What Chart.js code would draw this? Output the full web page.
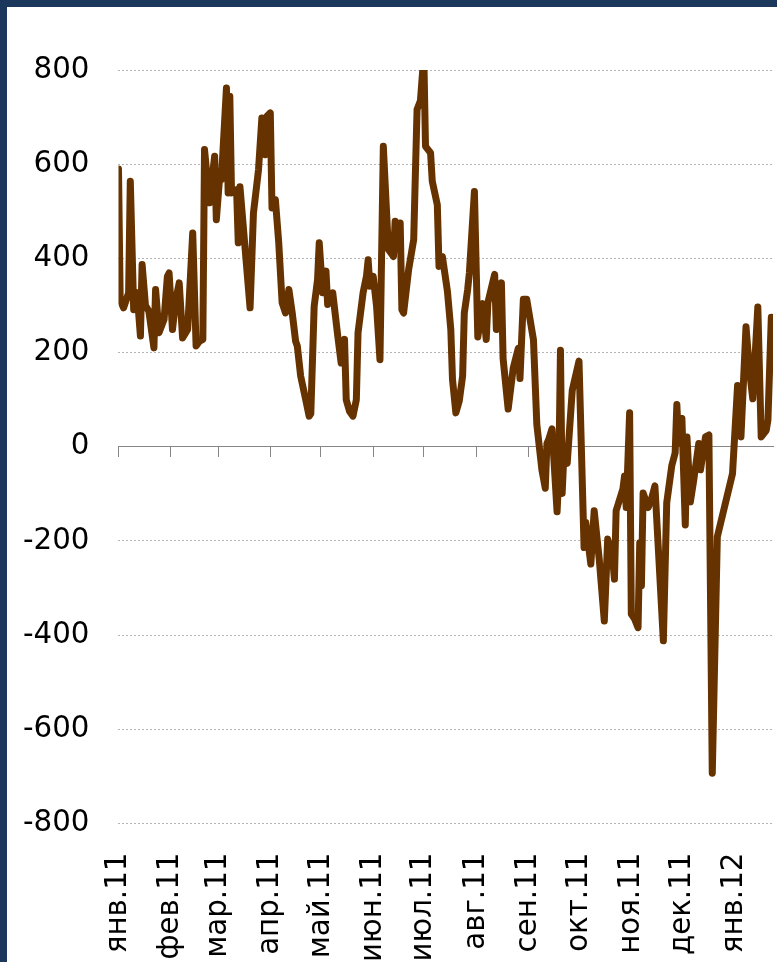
<!DOCTYPE html>
<html>
<head>
<meta charset="utf-8">
<script src="https://cdn.jsdelivr.net/npm/chart.js@4.4.1/dist/chart.umd.min.js"></script>
<style>
  html, body { margin: 0; padding: 0; background: #fff; overflow: hidden; }
  body { position: relative; width: 777px; height: 962px; }
  #frame {
    position: absolute; left: 0; top: 0; width: 777px; height: 962px;
    box-sizing: border-box;
    border-top: 7px solid #1b375c; border-left: 7px solid #1b375c;
  }
  #chart { position: absolute; left: 0; top: 0; }
</style>
</head>
<body>
<div id="frame"></div>
<canvas id="chart" width="777" height="991"></canvas>
<script>
// month ticks: days since 1 Jan 2011
const monthStarts = [0, 31, 59, 90, 120, 151, 181, 212, 243, 273, 304, 334, 365];
const monthLabels = ["янв.11", "фев.11", "мар.11", "апр.11", "май.11", "июн.11",
  "июл.11", "авг.11", "сен.11", "окт.11", "ноя.11", "дек.11", "янв.12"];

// observations: day offset from 1 Jan 2011 and value
const days = [
  0, 1, 3, 6, 7, 9, 11, 13, 14, 16, 18, 21, 22, 24, 27, 29, 30, 32, 34, 36,
  38, 41, 44, 46, 48, 50, 51, 54, 57, 58, 60, 61, 64, 65, 66, 67, 70, 71, 72, 78,
  80, 83, 85, 87, 88, 90, 91, 93, 95, 97, 99, 101, 103, 105, 106, 108, 111, 113, 114, 116,
  118, 119, 121, 123, 124, 127, 130, 132, 134, 135, 137, 139, 141, 142, 145, 147, 148, 149, 151, 153,
  155, 157, 160, 163, 164, 166, 167, 168, 169, 172, 175, 176, 177, 179, 181, 182, 185, 186, 189, 190,
  192, 195, 197, 198, 200, 202, 204, 205, 207, 208, 211, 213, 216, 218, 219, 223, 224, 227, 228, 231,
  234, 237, 238, 240, 242, 246, 248, 251, 253, 254, 255, 257, 258, 260, 261, 262, 263, 264, 266, 269,
  273, 276, 277, 280, 282, 284, 285, 288, 290, 293, 294, 295, 299, 300, 301, 303, 304, 306, 308, 309,
  310, 311, 314, 316, 318, 323, 325, 328, 330, 331, 332, 334, 336, 337, 339, 341, 344, 345, 348, 350,
  352, 355, 364, 367, 369, 372, 374, 376, 379, 381, 384, 385, 387
];
const values = [
  590, 312, 295, 327, 564, 291, 327, 235, 387, 300, 288, 210, 334, 242, 270, 362, 369, 249, 313, 348,
  231, 249, 454, 214, 224, 228, 631, 518, 617, 482, 574, 567, 762, 539, 744, 539, 546, 433, 552, 295,
  496, 588, 698, 620, 702, 709, 507, 525, 433, 306, 284, 334, 284, 224, 214, 150, 100, 65, 70, 298,
  355, 433, 327, 373, 302, 327, 235, 178, 228, 100, 75, 65, 100, 242, 327, 362, 397, 341, 362, 298,
  185, 638, 419, 404, 479, 420, 475, 291, 284, 376, 440, 580, 716, 735, 830, 638, 624, 564, 514, 383,
  404, 330, 249, 143, 72, 97, 150, 284, 334, 369, 542, 233, 304, 228, 306, 366, 249, 348, 187, 80,
  167, 209, 145, 313, 313, 227, 47, -49, -88, 7, 15, 38, -20, -138, -60, 205, -99, -20, -35, 120,
  182, -214, -161, -249, -136, -205, -239, -370, -196, -240, -281, -136, -90, -62, -129, 72, -355, -366, -384, -204,
  -295, -98, -129, -110, -83, -412, -119, -40, -13, 90, 8, 60, -166, 21, -117, -71, 7, -49, 21, 25,
  -693, -191, -57, 130, 21, 255, 165, 102, 297, 21, 35, 57, 275
];

const labelFont = { family: "'DejaVu Sans'", size: 29.3 };
const setMonthTicks = (axis) => {
  axis.ticks = monthStarts.map((v) => ({ value: v }));
};

const ctx = document.getElementById("chart").getContext("2d");
new Chart(ctx, {
  type: "line",
  data: {
    datasets: [{
      data: days.map((d, i) => ({ x: d, y: values[i] })),
      borderColor: "#663300",
      borderWidth: 7,
      pointRadius: 0,
      tension: 0,
      borderJoinStyle: "round",
      borderCapStyle: "round",
      clip: 0,
    }],
  },
  options: {
    responsive: false,
    animation: false,
    layout: { padding: { left: -6, top: 70, right: 4, bottom: 0 } },
    plugins: { legend: { display: false }, tooltip: { enabled: false } },
    scales: {
      x: {
        type: "linear",
        min: 0,
        max: 388,
        afterBuildTicks: setMonthTicks,
        // last label sits well inside the plot, no need for side room
        afterFit: (scale) => { scale.paddingRight = 0; },
        grid: { display: false, drawTicks: false },
        border: { display: false },
        ticks: {
          autoSkip: false,
          maxRotation: 90,
          minRotation: 90,
          padding: 29,
          color: "#000",
          font: labelFont,
          callback: (v) => monthLabels[monthStarts.indexOf(v)],
        },
      },
      zero: {
        type: "linear",
        axis: "x",
        position: { y: 0 },
        min: 0,
        max: 388,
        afterBuildTicks: setMonthTicks,
        grid: { drawOnChartArea: false, drawTicks: true, tickLength: 10, color: "#868686", lineWidth: 1 },
        border: { display: true, color: "#868686", width: 1 },
        ticks: { display: false },
      },
      y: {
        min: -800,
        max: 800,
        ticks: {
          stepSize: 200,
          padding: 29,
          color: "#000",
          font: labelFont,
          callback: (v) => String(v),
        },
        grid: { color: "#b5b5b5", lineWidth: 1, drawTicks: false },
        border: { display: false, dash: [2, 2] },
      },
    },
  },
});
</script>
</body>
</html>
